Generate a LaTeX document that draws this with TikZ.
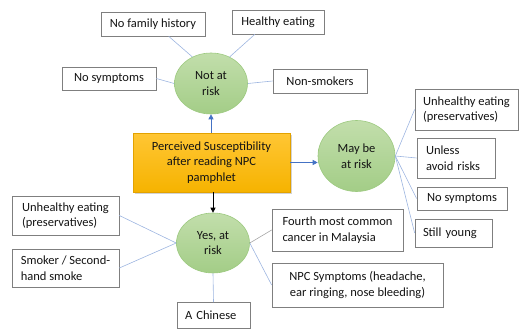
\documentclass[tikz,border=0pt]{standalone}
\usepackage{fontspec}
\setmainfont{Carlito}
\usetikzlibrary{shapes.geometric,arrows.meta,shadows,calc}
\definecolor{boxline}{HTML}{7F7F7F}
\definecolor{linkblue}{HTML}{9DB5E0}
\definecolor{arrowblue}{HTML}{4472C4}
\definecolor{greentop}{HTML}{C2DEAB}
\definecolor{greenbot}{HTML}{A3CD87}
\definecolor{greenline}{HTML}{9CC97F}
\definecolor{orangetop}{HTML}{FFC634}
\definecolor{orangebot}{HTML}{F6B300}
\definecolor{orangeline}{HTML}{E3A200}
\definecolor{linkgray}{HTML}{A6A6A6}
\tikzset{
  txt/.style={font=\fontsize{12.5}{15.5}\selectfont, text=black!92},
  infobox/.style={txt, draw=boxline, line width=0.7pt, fill=white, inner sep=0pt},
  riskell/.style={txt, ellipse, draw=greenline, line width=0.6pt, top color=greentop, bottom color=greenbot, inner sep=0pt, align=center},
  mainbox/.style={txt, draw=orangeline, line width=0.6pt, top color=orangetop, bottom color=orangebot, inner sep=0pt, align=center,
     drop shadow={shadow xshift=1.5pt, shadow yshift=-1.5pt, opacity=0.35}},
  link/.style={draw=linkblue, line width=0.6pt},
  arr/.style={line width=0.6pt, -{Triangle[length=5pt,width=5pt]}},
}
\begin{document}
\begin{tikzpicture}[x=1pt,y=-1pt]
\useasboundingbox (0,0) rectangle (520,329);
% central
\node[mainbox, minimum width=157pt, minimum height=59pt] (center) at (211.5,162.5)
  {Perceived Susceptibility\\after reading NPC\\pamphlet};
% ellipses
\node[riskell, minimum width=73pt, minimum height=61pt] (notrisk) at (211,83.5) {Not at\\risk};
\node[riskell, minimum width=77pt, minimum height=71pt] (maybe) at (356.5,156) {May be\\at risk};
\node[riskell, minimum width=73pt, minimum height=60pt] (yes) at (213,243) {Yes, at\\risk};
% boxes around Not at risk
\node[infobox, minimum width=104pt, minimum height=24pt] (nofam) at (153,24) {No family history};
\node[infobox, minimum width=92pt, minimum height=24pt] (healthy) at (278,22) {Healthy eating};
\node[infobox, minimum width=94pt, minimum height=23pt] (nosymA) at (109,78.5) {No symptoms};
\node[infobox, minimum width=94pt, minimum height=24pt] (nonsmoke) at (320,81) {Non-smokers};
% boxes around May be at risk
\node[infobox, minimum width=103pt, minimum height=41pt, align=left] (unhA) at (466.5,109.5) {Unhealthy eating\\(preservatives)};
\node[infobox, minimum width=78pt, minimum height=40pt, text width=60pt, align=left] (unless) at (456,158) {Unless\\avoid risks};
\node[infobox, minimum width=90pt, minimum height=23pt] (nosymB) at (462,198.5) {No symptoms};
\node[infobox, minimum width=77pt, minimum height=28pt, text width=61pt, align=left] (young) at (453.5,233) {Still young};
% boxes around Yes at risk
\node[infobox, minimum width=107pt, minimum height=39pt, align=left] (unhB) at (65.5,215.5) {Unhealthy eating\\(preservatives)};
\node[infobox, minimum width=107pt, minimum height=38pt, align=left] (smoker) at (65.5,268) {Smoker / Second-\\hand smoke};
\node[infobox, minimum width=73pt, minimum height=26pt, text width=57pt, align=left] (chinese) at (213.5,315.5) {A Chinese};
\node[infobox, minimum width=131pt, minimum height=42pt, align=left] (fourth) at (337.5,230) {Fourth most common\\cancer in Malaysia};
\node[infobox, minimum width=171pt, minimum height=44pt, align=center] (npc) at (357.5,285) {NPC Symptoms (headache,\\ear ringing, nose bleeding)};
% links
\draw[link] (notrisk.125) -- ($(nofam.south)!0.3!(nofam.south east)$);
\draw[link] (notrisk.55) -- ($(healthy.south west)!0.25!(healthy.south east)$);
\draw[link] (nosymA.east) -- (notrisk.west);
\draw[link] (notrisk.east) -- (nonsmoke.west);
\draw[link] (maybe.east) -- (unhA.west);
\draw[link] (maybe.east) -- (unless.west);
\draw[link] (maybe.east) -- (nosymB.west);
\draw[link] (maybe.east) -- (young.west);
\draw[link] (unhB.east) -- (yes.west);
\draw[link] (smoker.east) -- (yes.west);
\draw[link] (yes.south) -- (chinese.north);
\draw[link, draw=linkgray] (yes.east) -- (fourth.west);
\draw[link] (yes.east) -- (npc.west);
% arrows
\draw[arr, draw=arrowblue, fill=arrowblue] (notrisk.south |- center.north) -- (notrisk.south);
\draw[arr, draw=black, fill=black] (yes.north |- center.south) -- (yes.north);
\draw[arr, draw=arrowblue, fill=arrowblue] (center.east) -- (maybe.west |- center.east);
\end{tikzpicture}
\end{document}
